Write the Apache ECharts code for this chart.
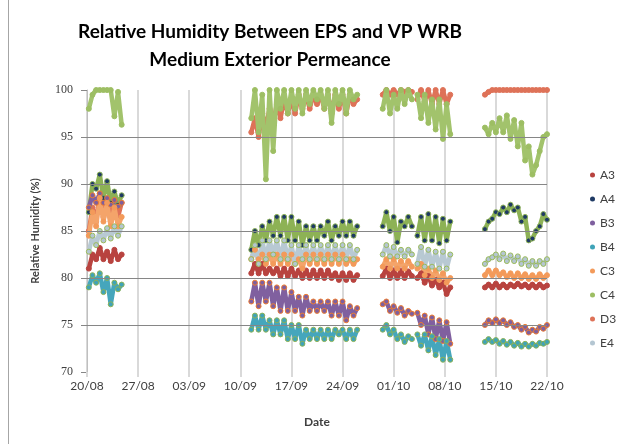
<!DOCTYPE html>
<html>
<head>
<meta charset="utf-8">
<script src="https://cdn.jsdelivr.net/npm/echarts/dist/echarts.min.js"></script>
<style>html,body{margin:0;padding:0;background:#fff}#chart{width:617px;height:444px}</style>
</head>
<body>
<div id="chart"></div>
<script>
// x values are days after 20/08; each segment is read every 12 hours
var dateLabels = ['20/08', '27/08', '03/09', '10/09', '17/09', '24/09', '01/10', '08/10', '15/10', '22/10'];
var segStart = [0.25, 22.5, 40.5, 45.25, 54.5];
var gridValues = [75, 80, 85, 90, 95];
var titleLines = ['Relative Humidity Between EPS and VP WRB', 'Medium Exterior Permeance'];

var a3 = [
    [81, 82.5, 82, 83.2, 82, 82.8, 81.8, 83, 82, 82.5],
    [80.5, 81.5, 80.5, 81.5, 80.5, 81, 80.5, 81, 80.2, 81, 80.2, 81, 80.2, 80.8, 80, 80.8, 80, 80.8, 80, 80.8, 80, 80.8, 80, 80.5, 79.8, 80.5, 79.8, 80.5, 79.8, 80.3],
    [80.2, 81, 80, 80.8, 80, 80.8, 80, 80.7, 80.2],
    [80, 80.5, 79.5, 80.2, 79.2, 79.8, 79, 79.5, 78.3, 79],
    [79, 79.3, 79, 79.4, 79, 79.3, 79, 79.3, 79.1, 79.4, 79.1, 79.3, 79, 79.3, 79, 79.3, 79, 79.2]
];
var a4 = [
    [87, 90, 89.5, 91, 88.5, 90.3, 88, 89.2, 87.8, 88.8],
    [83, 85, 83.5, 85.5, 84, 86, 84.5, 86.5, 84.5, 86.5, 84, 86.5, 84, 86, 83.5, 85.5, 84, 85.5, 84, 85.5, 84.5, 86, 84, 85.5, 84.5, 86, 84.5, 86, 84.5, 85.5],
    [85.5, 87, 85, 86.5, 83.8, 86, 85.5, 86.5, 85.5],
    [84.5, 86.5, 84, 86.8, 84, 86.5, 83.7, 86.3, 84, 86],
    [85.2, 86, 86.3, 87, 86.8, 87.5, 87, 87.8, 87.2, 87.5, 86, 86.5, 84, 84.2, 85, 85.5, 86.8, 86.2]
];
var b3 = [
    [87.5, 88.8, 88, 89, 88, 88.5, 87.8, 88.3, 87.6, 88],
    [77.5, 79.5, 77, 79.5, 77.5, 79.5, 77, 79, 76.5, 79, 76.5, 78.5, 76.5, 78, 76, 78, 76.5, 77.5, 76.5, 77.5, 76.5, 77.5, 76, 77.5, 76, 77.5, 75.5, 77, 76, 76.8],
    [77.2, 77.5, 76.5, 77, 76.3, 76.8, 76, 76.5, 76.2],
    [76.3, 75, 76, 74, 75.8, 73.5, 75.5, 73.3, 75.3, 73],
    [75, 75.5, 75.2, 75.6, 75.2, 75.5, 75, 75.3, 74.8, 75, 74.5, 74.8, 74.2, 74.5, 74.3, 74.8, 74.6, 75]
];
var b4 = [
    [79, 80.3, 79.5, 80.5, 78.5, 80, 77.2, 79.5, 78.8, 79.3],
    [74.5, 76, 74.5, 76, 74.5, 75.5, 74, 75.5, 74, 75.5, 73.5, 75, 73.5, 75, 73, 74.5, 73.5, 74.5, 73.5, 74.5, 73.5, 74.5, 73.5, 74.5, 74, 74.5, 73.5, 74.5, 73.5, 74.5],
    [74.5, 75, 74, 74.5, 73.5, 74, 73.2, 73.8, 73.5],
    [74, 72.8, 74, 72.3, 73.8, 71.8, 73.5, 71.3, 73.3, 71.3],
    [73.2, 73.5, 73.2, 73.4, 73, 73.3, 72.9, 73.2, 72.8, 73.1, 72.7, 73, 72.7, 73, 72.8, 73.1, 73, 73.2]
];
var c3 = [
    [84.5, 87, 85.5, 88.5, 86, 88, 85.5, 87.5, 85.5, 86.5],
    [82, 83, 82, 82.5, 81.5, 82.5, 81.5, 82.5, 81.5, 82.5, 81.5, 82.5, 81.5, 82, 81, 82.5, 81.5, 82.5, 81.5, 82.5, 81.5, 82.5, 81.5, 82.5, 81.5, 82.5, 81.5, 82, 81.5, 82],
    [81.2, 82, 81, 82, 81, 81.8, 81, 81.8, 81.2],
    [81, 81.5, 80.3, 81, 80, 80.8, 79.8, 80.5, 79.5, 80],
    [80.3, 80.8, 80.3, 80.8, 80.3, 80.6, 80.1, 80.5, 80, 80.5, 80, 80.4, 79.9, 80.3, 79.9, 80.4, 80, 80.3]
];
var c4 = [
    [98, 99.5, 100, 100, 100, 100, 100, 97.2, 99.8, 96.3],
    [97, 100, 95.5, 99.5, 90.5, 100, 93.5, 100, 98, 100, 97.5, 100, 98, 100, 97.5, 100, 98.5, 100, 99, 100, 98, 100, 96.5, 100, 98.5, 100, 97.5, 100, 99, 99.5],
    [98, 100, 97.5, 99.5, 98, 100, 98.5, 100, 99],
    [99.5, 97, 99.5, 96.5, 99, 95.8, 99, 94.8, 98.5, 95.3],
    [96, 95.3, 96.5, 95.5, 97, 95.5, 97.3, 94.8, 96.8, 94, 96.5, 92.5, 94, 91, 92, 93.5, 95, 95.3]
];
var d3 = [
    [85, 87.5, 86, 89, 86.5, 88, 86, 88.5, 86.5, 88],
    [95.5, 97, 95, 97.5, 96, 98, 96.5, 98.5, 97, 99, 97.5, 99, 97.5, 99.5, 98, 99.5, 98, 99.5, 98.5, 99.5, 98, 99.5, 97.5, 99.5, 98, 99.5, 97.5, 99.5, 98.5, 99],
    [99.5, 100, 99.5, 100, 99.5, 100, 99.8, 100, 99.8],
    [99, 100, 98.8, 100, 98.5, 100, 98.5, 100, 98.5, 99.5],
    [99.5, 99.8, 100, 100, 100, 100, 100, 100, 100, 100, 100, 100, 100, 100, 100, 100, 100, 100]
];
var e4 = [
    [82.8, 84.5, 83.5, 85, 84, 85.3, 84.2, 85.5, 84.5, 85.5],
    [82, 83.5, 81.5, 84, 82, 84, 82.5, 84, 82, 84, 82, 83.5, 81.5, 83.5, 82, 83.5, 82, 83.5, 82, 83.5, 82, 83.5, 82, 83.5, 82, 83.5, 82, 83.5, 82, 83],
    [82.5, 83.5, 82.3, 83.3, 82.3, 83, 82.3, 83, 82.5],
    [81.5, 83.3, 81.2, 83, 81.2, 82.8, 81, 82.8, 81, 82.5],
    [81.5, 82, 82.2, 82.5, 82, 82.6, 81.8, 82.4, 81.8, 82.3, 81.5, 82, 81.3, 81.8, 81.3, 81.8, 81.5, 82]
];

// segments -> [day, value] pairs, with a break between the logging periods
function build(segs) {
    var out = [];
    segs.forEach(function (vals, s) {
        if (s > 0) out.push([segStart[s] - 0.25, '-']);
        vals.forEach(function (v, i) {
            out.push([segStart[s] + i * 0.5, v]);
        });
    });
    return out;
}

function mk(name, segs, fill, edge, line, z) {
    return {
        name: name,
        type: 'line',
        data: build(segs),
        z: z || 3,
        symbol: 'circle',
        symbolSize: 5,
        connectNulls: false,
        itemStyle: {color: fill, borderColor: edge, borderWidth: 1},
        lineStyle: {color: line, width: 4.5},
        emphasis: {disabled: true}
    };
}

var myChart = echarts.init(document.getElementById('chart'));
var option = {
    animation: false,
    textStyle: {fontFamily: 'Lato'},
    graphic: [
        {type: 'line', shape: {x1: 8.5, y1: 0, x2: 8.5, y2: 444}, style: {stroke: '#A6A6A6', lineWidth: 1}},
        {
            type: 'text', x: 270, y: 18,
            style: {
                text: titleLines.join('\n'), textAlign: 'center', textVerticalAlign: 'top',
                font: 'bold 19px Lato', lineHeight: 28, fill: '#000'
            }
        }
    ],
    legend: {
        orient: 'vertical',
        left: 585,
        top: 163,
        icon: 'circle',
        itemWidth: 5,
        itemHeight: 5,
        itemGap: 10,
        itemStyle: {borderWidth: 0},
        lineStyle: {width: 0},
        textStyle: {fontSize: 12, color: '#404040', lineHeight: 14},
        data: ['A3', 'A4', 'B3', 'B4', 'C3', 'C4', 'D3', 'E4']
    },
    grid: {left: 87, right: 70, top: 90, bottom: 72},
    xAxis: {
        type: 'value',
        min: 0,
        max: 63,
        interval: 7,
        name: 'Date',
        nameLocation: 'middle',
        nameGap: 44,
        nameTextStyle: {fontWeight: 'bold', fontSize: 12, color: '#404040'},
        axisLine: {show: false},
        axisTick: {show: true, length: 5, lineStyle: {color: '#D9D9D9', width: 2}},
        splitLine: {show: true, lineStyle: {color: '#D9D9D9', width: 2}},
        axisLabel: {
            fontSize: 12, color: '#404040', margin: 8,
            formatter: function (v) { return dateLabels[Math.round(v / 7)]; }
        }
    },
    yAxis: {
        type: 'value',
        min: 70,
        max: 100,
        interval: 5,
        name: 'Relative Humidity (%)',
        nameLocation: 'middle',
        nameGap: 46,
        nameTextStyle: {fontWeight: 'bold', fontSize: 11, color: '#404040'},
        axisLine: {show: true, lineStyle: {color: '#BFBFBF'}},
        axisTick: {show: true, length: 6, lineStyle: {color: '#868686'}},
        splitLine: {show: false},
        axisLabel: {fontFamily: 'Liberation Serif', fontSize: 12, color: '#404040', margin: 14}
    },
    series: [
        {
            name: 'grid', type: 'line', data: [], z: 1, silent: true,
            markLine: {
                silent: true, symbol: 'none', label: {show: false},
                lineStyle: {color: '#868686', type: 'solid', width: 1},
                data: gridValues.map(function (v) { return {yAxis: v}; })
            }
        },
        mk('A3', a3, '#B8433F', '#B8433F', '#B8433F'),
        mk('A4', a4, '#1F3A64', '#8DB255', '#8DB255'),
        mk('B3', b3, '#7E5F9E', '#F07C2E', '#80609F'),
        mk('B4', b4, '#3FA3B8', '#8DB255', '#45A6BC'),
        mk('C3', c3, '#F39A5A', '#F39A5A', '#F4A46A'),
        mk('C4', c4, '#9DBE63', '#9DBE63', '#A2C36C'),
        mk('D3', d3, '#DE7258', '#DE7258', '#DE7258', 2),
        mk('E4', e4, '#B4C6D2', '#9BBB59', '#B8C9D3')
    ]
};
myChart.setOption(option, true);
window.onresize = function () { myChart.resize(); };
</script>
</body>
</html>
